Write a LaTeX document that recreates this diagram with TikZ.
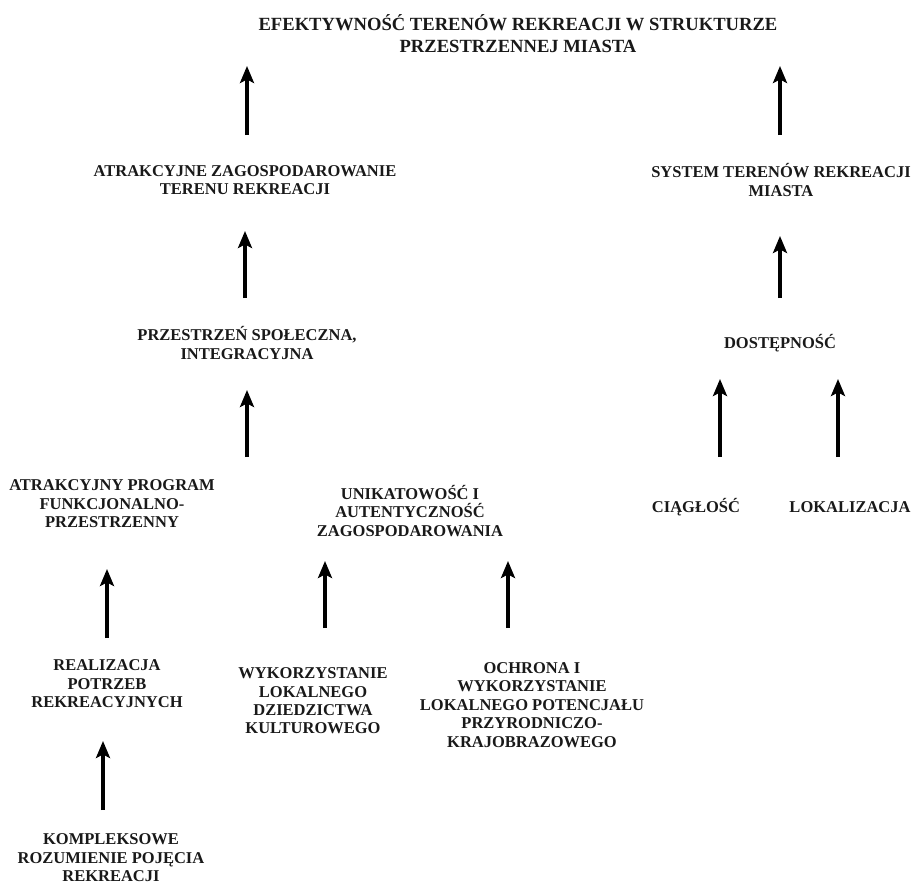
\documentclass[tikz,border=0pt]{standalone}
\usepackage{fontspec}
\setmainfont{Liberation Serif}
\usetikzlibrary{arrows.meta}
\tikzset{
  txt/.style={font=\fontsize{16.5}{18.4}\selectfont\bfseries, align=center, inner sep=0pt, text=black!90},
  ttl/.style={font=\fontsize{18.6}{22}\selectfont\bfseries, align=center, inner sep=0pt, text=black!90},
  arr/.style={line width=3.2pt, -{Stealth[length=17pt,width=14pt,inset=3.5pt]}}
}
\begin{document}
\begin{tikzpicture}[x=1pt,y=-1pt]
\useasboundingbox (0,0) rectangle (914,886);
% text nodes
\node[ttl] (title) at (518,34) {EFEKTYWNOŚĆ TERENÓW REKREACJI W STRUKTURZE\\PRZESTRZENNEJ MIASTA};
\node[txt] (atrz) at (245,180) {ATRAKCYJNE ZAGOSPODAROWANIE\\TERENU REKREACJI};
\node[txt] (system) at (781,180) {SYSTEM TERENÓW REKREACJI\\MIASTA};
\node[txt] (przestrz) at (247,343) {PRZESTRZEŃ SPOŁECZNA,\\INTEGRACYJNA};
\node[txt] (dostep) at (780,343) {DOSTĘPNOŚĆ};
\node[txt] (program) at (112,504) {ATRAKCYJNY PROGRAM\\FUNKCJONALNO-\\PRZESTRZENNY};
\node[txt] (unikat) at (410,511) {UNIKATOWOŚĆ I\\AUTENTYCZNOŚĆ\\ZAGOSPODAROWANIA};
\node[txt] (ciag) at (696,507) {CIĄGŁOŚĆ};
\node[txt] (lokal) at (850,507) {LOKALIZACJA};
\node[txt] (realiz) at (107,684) {REALIZACJA\\POTRZEB\\REKREACYJNYCH};
\node[txt] (wykorz) at (313,701) {WYKORZYSTANIE\\LOKALNEGO\\DZIEDZICTWA\\KULTUROWEGO};
\node[txt] (ochrona) at (532,705) {OCHRONA I\\WYKORZYSTANIE\\LOKALNEGO POTENCJAŁU\\PRZYRODNICZO-\\KRAJOBRAZOWEGO};
\node[txt] (kompl) at (111,858) {KOMPLEKSOWE\\ROZUMIENIE POJĘCIA\\REKREACJI};
% arrow end points
\coordinate (a1s) at (247,135); \coordinate (a1e) at (247,66);
\coordinate (a2s) at (780,135); \coordinate (a2e) at (780,66);
\coordinate (a3s) at (245,298); \coordinate (a3e) at (245,231);
\coordinate (a4s) at (780,298); \coordinate (a4e) at (780,236);
\coordinate (a5s) at (247,457); \coordinate (a5e) at (247,390);
\coordinate (a6s) at (720,457); \coordinate (a6e) at (720,379);
\coordinate (a7s) at (838,457); \coordinate (a7e) at (838,379);
\coordinate (a8s) at (107,638); \coordinate (a8e) at (107,569);
\coordinate (a9s) at (325,628); \coordinate (a9e) at (325,561);
\coordinate (a10s) at (508,628); \coordinate (a10e) at (508,561);
\coordinate (a11s) at (103,810); \coordinate (a11e) at (103,741);
\foreach \i in {1,...,11} \draw[arr] (a\i s) -- (a\i e);
\end{tikzpicture}
\end{document}
